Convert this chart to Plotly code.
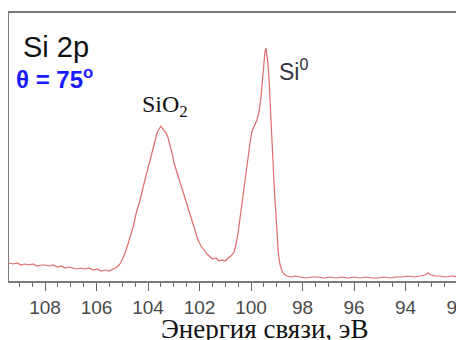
import plotly.graph_objects as go

# Binding energy (eV) and intensity (arb. units)
energy = [109.40, 109.24, 109.09, 108.93, 108.78, 108.62, 108.47, 108.31, 108.16, 108.00,
          107.84, 107.69, 107.53, 107.38, 107.22, 107.07, 106.91, 106.76, 106.60, 106.45,
          106.29, 106.14, 105.98, 105.83, 105.67, 105.51, 105.36, 105.20, 105.09, 104.97,
          104.85, 104.74, 104.58, 104.47, 104.31, 104.16, 104.04, 103.92, 103.84, 103.73,
          103.65, 103.57, 103.50, 103.46, 103.38, 103.30, 103.22, 103.15, 103.07, 102.99,
          102.87, 102.76, 102.64, 102.52, 102.41, 102.29, 102.17, 102.06, 101.94, 101.83,
          101.71, 101.59, 101.48, 101.36, 101.24, 101.13, 101.01, 100.89, 100.78, 100.66,
          100.58, 100.50, 100.43, 100.35, 100.27, 100.19, 100.12, 100.04, 99.96, 99.92,
          99.84, 99.77, 99.69, 99.61, 99.57, 99.53, 99.50, 99.46, 99.42, 99.38,
          99.34, 99.30, 99.26, 99.22, 99.18, 99.15, 99.11, 99.07, 99.03, 98.99,
          98.95, 98.91, 98.87, 98.80, 98.72, 98.60, 98.45, 98.29, 98.10, 97.86,
          97.63, 97.40, 97.17, 96.93, 96.70, 96.47, 96.23, 96.00, 95.77, 95.53,
          95.30, 95.07, 94.83, 94.60, 94.37, 94.14, 93.90, 93.67, 93.44, 93.24,
          93.13, 93.01, 92.85, 92.66, 92.43, 92.19, 91.96, 91.73]
intensity = [18, 17, 18, 16, 17, 16, 17, 15, 16, 16,
             15, 16, 14, 15, 13, 14, 13, 12, 13, 12,
             13, 11, 12, 10, 11, 10, 12, 14, 17, 23,
             31, 41, 54, 67, 81, 97, 109, 123, 131, 141,
             148, 152, 155, 153, 151, 148, 143, 137, 128, 118,
             108, 98, 88, 78, 68, 58, 49, 41, 35, 31,
             27, 24, 22, 23, 20, 21, 20, 23, 25, 29,
             37, 49, 63, 77, 93, 109, 123, 138, 150, 153,
             157, 161, 169, 185, 196, 209, 221, 229, 233, 227,
             217, 201, 183, 163, 141, 121, 99, 79, 59, 43,
             31, 22, 16, 10, 7, 5, 4, 5, 4, 3,
             4, 4, 3, 4, 3, 4, 3, 4, 3, 4,
             3, 3, 4, 3, 4, 4, 5, 4, 5, 6,
             8, 6, 5, 5, 4, 5, 4, 4]

tick_vals = [108, 106, 104, 102, 100, 98, 96, 94, 92]
tick_text = [str(v) for v in tick_vals]

fig = go.Figure()
fig.add_trace(go.Scatter(x=energy, y=intensity, mode="lines",
                         line=dict(color="#e06a6a", width=1.2), showlegend=False))

# page body has an 8px default margin: figure is sized to fit the window
fig.update_layout(
    width=456, height=332, autosize=False,
    margin=dict(l=1, r=0, t=5, b=59, pad=0),
    paper_bgcolor="white", plot_bgcolor="white",
    xaxis=dict(range=[109.40, 91.73], tickvals=tick_vals, ticktext=tick_text,
               ticks="outside", ticklen=8, tickwidth=1.3, tickcolor="#666",
               ticklabelstandoff=0, ticklabeloverflow="allow",
               minor=dict(dtick=0.5, ticks="outside", ticklen=4, tickwidth=1.2, tickcolor="#666"),
               showline=True, linecolor="#7a7a7a", linewidth=1.6, mirror=True,
               showgrid=False, zeroline=False, automargin=False,
               tickfont=dict(family="Liberation Sans, Arial", size=19, color="#4a4a4a")),
    yaxis=dict(range=[0, 268], showticklabels=False, ticks="",
               showline=True, linecolor="#7a7a7a", linewidth=1.6,
               showgrid=False, zeroline=False, automargin=False),
)

def px(x):
    return (x - 9) / 455

def py(y):
    return (281 - y) / 268

anns = [
    dict(text="Si 2p", x=px(21), y=py(47), xanchor="left", yanchor="middle",
         font=dict(family="Liberation Sans, Arial", size=29, color="#111111")),
    dict(text="<b>θ = 75<sup>o</sup></b>", x=px(14), y=py(78), xanchor="left", yanchor="middle",
         font=dict(family="Liberation Sans, Arial", size=24, color="#1a1aff")),
    dict(text="SiO<sub>2</sub>", x=px(165), y=py(106), xanchor="center", yanchor="middle",
         font=dict(family="Liberation Serif, Times New Roman", size=24, color="#111111")),
    dict(text="Si<sup>0</sup>", x=px(277), y=py(70), xanchor="left", yanchor="middle",
         font=dict(family="Liberation Sans, Arial", size=23, color="#333344")),
    dict(text="Энергия связи, эВ", x=px(264), y=py(329), xanchor="center", yanchor="middle",
         font=dict(family="Liberation Serif, Times New Roman", size=27, color="#111111")),
]
for a in anns:
    fig.add_annotation(xref="paper", yref="paper", showarrow=False, **a)

fig.write_html("out.html")
